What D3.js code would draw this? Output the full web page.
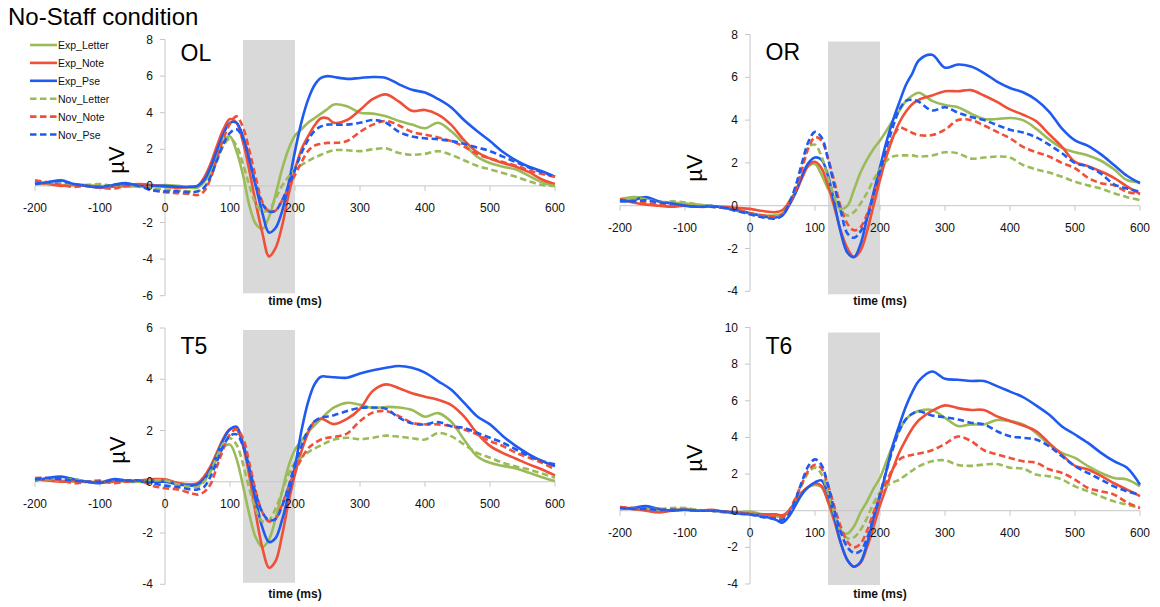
<!DOCTYPE html>
<html>
<head>
<meta charset="utf-8">
<script src="https://cdn.jsdelivr.net/npm/d3@7"></script>
<style>
  body { margin: 0; background: #fff; }
  svg { display: block; }
</style>
</head>
<body>
<svg id="chart" width="1160" height="607"></svg>
<script>
// Sampling times (ms) shared by every waveform
const times = [-200,-180,-160,-140,-120,-100,-80,-60,-40,-20,0,20,40,
  50,60,70,80,90,100,110,120,130,140,150,160,170,180,190,200,210,220,230,240,250,260,
  280,300,320,340,360,380,400,420,440,460,480,500,520,540,560,580,600];

const seriesNames = ["Exp_Letter","Exp_Note","Exp_Pse","Nov_Letter","Nov_Note","Nov_Pse"];
const channelNames = ["OL","OR","T5","T6"];
const xTickValues = [-200,-100,0,100,200,300,400,500,600];
const yTicksOL = [-6,-4,-2,0,2,4,6,8];
const yTicksOR = [-4,-2,0,2,4,6,8];
const yTicksT5 = [-4,-2,0,2,4,6];
const yTicksT6 = [-4,-2,0,2,4,6,8,10];
const windowMs = [120, 200];

// ---- OL (µV) ----
const olExpLetter = [0.1,0.1,0.05,0.05,0.05,0.0,0.0,-0.05,0.0,0.0,0.05,0.0,-0.1,
  -0.1,0.2,0.8,1.7,2.5,2.7,1.9,0.6,-1.1,-2.1,-2.35,-1.7,-0.5,0.9,2.0,2.75,3.1,3.45,3.7,3.95,4.2,4.45,
  4.35,4.0,3.95,3.8,3.55,3.35,3.15,3.45,3.0,2.3,1.6,1.25,1.05,0.9,0.55,0.2,0.0];
const olExpNote = [0.2,0.1,0.0,0.05,0.0,-0.05,-0.05,0.05,0.1,0.05,-0.05,-0.1,-0.05,
  0.0,0.45,1.2,2.2,3.1,3.65,3.45,2.4,0.8,-1.0,-2.6,-3.85,-3.4,-2.2,-0.5,0.9,2.0,2.7,3.3,3.7,3.7,3.45,
  3.6,4.15,4.75,5.0,4.6,4.1,4.15,3.9,3.35,2.5,1.85,1.5,1.25,1.05,0.75,0.35,0.1];
const olExpPse = [0.13,0.2,0.3,0.1,0.0,-0.1,0.05,0.15,0.0,0.0,0.0,-0.05,-0.05,
  0.0,0.3,1.0,1.95,2.85,3.45,3.45,2.7,1.4,-0.05,-1.5,-2.55,-2.3,-1.4,0.1,1.9,3.5,4.7,5.5,5.9,6.0,5.95,
  5.85,5.9,5.95,5.9,5.55,5.25,5.1,4.75,4.3,3.6,3.0,2.45,1.85,1.4,1.05,0.8,0.5];
const olNovLetter = [0.1,0.15,0.1,0.0,0.05,0.1,0.0,0.0,-0.05,-0.1,-0.2,-0.25,-0.3,
  -0.3,-0.1,0.5,1.4,2.2,2.6,2.2,1.2,0.0,-1.0,-1.4,-1.3,-0.7,0.0,0.5,0.9,1.15,1.35,1.55,1.7,1.85,1.95,
  1.95,1.9,2.0,2.05,1.8,1.7,1.75,1.9,1.7,1.4,1.1,0.9,0.7,0.5,0.25,0.05,0.0];
const olNovNote = [0.3,0.2,0.05,-0.05,0.0,-0.1,-0.15,0.0,0.05,-0.2,-0.35,-0.4,-0.45,
  -0.5,-0.3,0.4,1.5,2.6,3.4,3.8,3.2,1.9,0.4,-0.9,-1.4,-1.35,-0.8,-0.1,0.6,1.3,1.9,2.2,2.3,2.35,2.35,
  2.45,2.95,3.35,3.55,3.3,2.95,2.8,2.65,2.45,2.15,1.75,1.5,1.3,1.1,0.85,0.65,0.5];
const olNovPse = [0.1,0.2,0.25,0.1,0.0,-0.05,0.05,0.1,0.0,-0.25,-0.3,-0.3,-0.35,
  -0.3,-0.1,0.5,1.4,2.3,2.9,3.1,2.6,1.4,0.0,-1.0,-1.4,-1.35,-0.8,0.0,0.9,1.8,2.5,3.0,3.25,3.35,3.35,
  3.35,3.45,3.6,3.45,2.95,2.7,2.6,2.55,2.45,2.3,2.1,1.9,1.6,1.3,1.0,0.75,0.5];

// ---- OR (µV) ----
const orExpLetter = [0.3,0.4,0.35,0.2,0.15,0.1,0.05,0.0,-0.1,-0.25,-0.35,-0.45,-0.45,
  -0.35,0.2,0.65,1.3,1.85,1.95,1.45,0.8,0.25,-0.15,0.0,0.75,1.55,2.15,2.65,3.05,3.5,4.0,4.45,4.9,5.15,5.28,
  4.9,4.7,4.6,4.3,4.05,4.05,4.1,4.0,3.6,3.1,2.7,2.5,2.35,2.1,1.7,1.2,1.1];
const orExpNote = [0.3,0.15,0.05,0.0,-0.05,0.0,-0.05,-0.05,-0.05,-0.1,-0.15,-0.25,-0.3,
  -0.2,0.15,0.6,1.3,1.9,2.05,1.75,0.95,-0.1,-1.2,-2.0,-2.4,-2.1,-1.2,0.0,1.2,2.3,3.2,3.9,4.4,4.75,4.95,
  5.15,5.35,5.35,5.4,5.15,4.85,4.5,4.25,3.95,3.35,2.75,2.05,1.85,1.6,1.3,0.9,0.55];
const orExpPse = [0.2,0.25,0.4,0.2,0.1,0.0,-0.05,0.0,-0.1,-0.2,-0.35,-0.5,-0.55,
  -0.45,0.0,0.6,1.4,2.0,2.25,2.15,1.4,0.1,-1.3,-2.2,-2.4,-1.8,-0.6,0.6,1.8,3.0,4.0,4.85,5.65,6.2,6.8,
  7.05,6.45,6.6,6.5,6.2,5.8,5.5,5.3,4.95,4.4,3.6,3.05,2.8,2.4,1.9,1.4,1.05];
const orNovLetter = [0.3,0.35,0.3,0.15,0.2,0.15,0.05,-0.05,-0.1,-0.2,-0.4,-0.5,-0.55,
  -0.4,0.1,0.8,1.9,2.75,2.85,2.3,1.3,0.4,-0.25,-0.45,-0.3,0.1,0.6,1.2,1.7,2.1,2.3,2.35,2.35,2.35,2.3,
  2.35,2.5,2.45,2.2,2.25,2.3,2.25,1.9,1.7,1.55,1.35,1.12,0.95,0.8,0.58,0.4,0.26];
const orNovNote = [0.3,0.2,0.15,0.05,0.05,0.0,-0.05,-0.05,-0.1,-0.2,-0.35,-0.45,-0.5,
  -0.4,0.05,0.7,1.7,2.7,3.2,3.05,2.2,1.1,-0.1,-0.85,-1.15,-1.0,-0.4,0.5,1.4,2.4,3.2,3.65,3.55,3.4,3.3,
  3.3,3.55,4.0,4.0,3.75,3.45,3.15,2.75,2.5,2.3,2.0,1.75,1.3,1.05,0.95,0.65,0.55];
const orNovPse = [0.25,0.2,0.25,0.15,0.1,0.0,-0.05,-0.05,-0.1,-0.25,-0.4,-0.55,-0.6,
  -0.45,0.1,0.9,2.0,3.0,3.45,3.2,2.2,0.9,-0.3,-1.3,-1.5,-1.2,-0.6,0.5,1.6,2.7,3.7,4.5,4.9,4.95,4.85,
  4.45,4.6,4.35,4.15,4.0,3.77,3.55,3.42,3.2,2.85,2.45,2.0,1.82,1.5,1.0,0.8,0.65];

// ---- T5 (µV) ----
const t5ExpLetter = [0.1,0.1,0.05,0.0,0.0,0.0,0.05,0.0,0.0,0.05,0.05,-0.05,-0.15,
  -0.15,0.05,0.4,0.9,1.35,1.45,0.9,-0.15,-1.3,-2.2,-2.55,-2.25,-1.45,-0.4,0.6,1.25,1.6,1.95,2.2,2.45,2.7,2.9,
  3.08,3.0,2.88,2.92,2.9,2.8,2.54,2.68,2.35,1.65,1.0,0.74,0.62,0.52,0.35,0.18,0.03];
const t5ExpNote = [0.1,0.05,0.0,0.05,0.0,-0.05,0.0,0.05,0.05,0.1,0.1,-0.05,-0.1,
  -0.05,0.2,0.6,1.15,1.7,2.05,2.05,1.4,0.2,-1.3,-2.6,-3.35,-3.1,-2.1,-0.8,0.3,1.2,1.9,2.35,2.47,2.35,2.25,
  2.45,2.85,3.55,3.8,3.65,3.45,3.32,3.2,3.0,2.55,1.9,1.4,1.12,0.9,0.68,0.48,0.25];
const t5ExpPse = [0.05,0.15,0.2,0.1,0.0,-0.05,0.1,0.05,0.0,0.0,0.0,-0.1,-0.15,
  -0.1,0.1,0.5,1.05,1.65,2.05,2.15,1.5,0.45,-0.75,-1.8,-2.35,-2.2,-1.5,-0.5,0.6,2.0,3.1,3.8,4.1,4.1,4.08,
  4.06,4.22,4.35,4.45,4.52,4.45,4.26,3.93,3.6,3.09,2.56,2.24,1.78,1.39,1.07,0.81,0.61];
const t5NovLetter = [0.1,0.1,0.05,0.1,0.0,0.0,0.0,0.05,0.0,0.05,0.05,-0.1,-0.2,
  -0.2,0.0,0.4,1.0,1.5,1.7,1.45,0.7,-0.3,-1.1,-1.55,-1.5,-1.05,-0.4,0.3,0.75,0.95,1.15,1.3,1.42,1.55,1.65,
  1.72,1.66,1.72,1.8,1.76,1.7,1.65,1.9,1.78,1.46,1.13,0.94,0.74,0.6,0.48,0.32,0.16];
const t5NovNote = [0.15,0.15,0.05,-0.05,0.0,0.05,-0.05,0.0,0.05,-0.15,-0.25,-0.3,-0.45,
  -0.5,-0.4,-0.1,0.6,1.3,1.85,2.05,1.7,0.7,-0.4,-1.2,-1.55,-1.45,-0.9,-0.2,0.4,0.9,1.3,1.5,1.65,1.72,1.75,
  1.88,2.37,2.7,2.76,2.56,2.3,2.24,2.24,2.17,2.04,1.85,1.59,1.39,1.13,0.94,0.74,0.48];
const t5NovPse = [0.1,0.15,0.1,0.05,0.0,0.0,0.05,0.05,0.05,-0.05,-0.15,-0.2,-0.3,
  -0.3,-0.2,0.2,0.8,1.4,1.8,1.85,1.4,0.5,-0.5,-1.2,-1.5,-1.45,-0.95,-0.2,0.7,1.4,2.0,2.35,2.5,2.55,2.6,
  2.76,2.88,2.9,2.85,2.5,2.28,2.24,2.33,2.17,2.1,1.91,1.72,1.52,1.26,1.0,0.81,0.68];

// ---- T6 (µV) ----
const t6ExpLetter = [0.15,0.1,0.1,0.0,0.05,0.1,0.0,0.0,-0.05,-0.1,-0.05,-0.2,-0.3,
  -0.35,0.0,0.5,1.0,1.3,1.4,1.3,0.5,-0.5,-1.15,-1.25,-0.85,-0.1,0.5,1.2,1.8,2.7,3.6,4.4,5.0,5.3,5.45,
  5.5,5.07,4.62,4.71,4.71,4.95,4.89,4.71,4.25,3.61,3.16,2.88,2.43,2.06,1.79,1.7,1.33];
const t6ExpNote = [0.2,0.1,0.0,-0.1,0.0,0.05,0.0,0.05,-0.05,-0.1,-0.15,-0.2,-0.2,
  -0.25,0.0,0.5,1.0,1.3,1.5,1.35,0.5,-0.6,-1.8,-2.7,-3.05,-2.85,-2.0,-0.9,0.3,1.3,2.3,3.2,3.9,4.5,4.95,
  5.45,5.75,5.6,5.5,5.5,5.15,4.9,4.65,4.35,3.7,3.05,2.45,2.25,1.9,1.5,1.15,0.8];
const t6ExpPse = [0.1,0.15,0.25,0.1,0.0,0.05,0.0,0.0,-0.05,-0.15,-0.2,-0.3,-0.5,
  -0.65,-0.3,0.3,0.9,1.3,1.55,1.65,0.9,-0.4,-1.8,-2.7,-3.05,-2.8,-1.8,-0.4,0.8,2.2,3.6,4.7,5.7,6.5,7.1,
  7.6,7.2,7.15,7.08,7.08,6.8,6.5,6.2,5.75,5.25,4.6,4.16,3.7,3.16,2.7,2.34,1.42];
const t6NovLetter = [0.1,0.15,0.1,0.1,0.15,0.15,0.05,0.0,-0.1,-0.15,-0.15,-0.3,-0.4,
  -0.4,-0.1,0.6,1.4,2.1,2.35,2.0,1.0,-0.2,-1.1,-1.5,-1.45,-1.05,-0.4,0.4,1.0,1.35,1.55,1.7,1.95,2.2,2.43,
  2.7,2.75,2.5,2.45,2.52,2.55,2.35,2.3,1.97,1.88,1.7,1.33,1.06,0.78,0.51,0.33,0.15];
const t6NovNote = [0.2,0.15,0.1,0.05,0.05,0.05,0.0,0.0,-0.05,-0.1,-0.2,-0.3,-0.35,
  -0.35,0.0,0.7,1.5,2.2,2.5,2.3,1.4,0.2,-0.9,-1.7,-2.0,-1.8,-1.1,-0.1,0.8,1.6,2.3,2.8,2.97,3.05,3.12,
  3.3,3.65,4.05,3.8,3.3,3.07,2.88,2.7,2.62,2.26,2.06,1.7,1.24,1.06,0.88,0.45,0.15];
const t6NovPse = [0.15,0.1,0.1,0.05,0.05,0.05,0.0,0.0,-0.05,-0.15,-0.2,-0.35,-0.45,
  -0.5,-0.2,0.6,1.6,2.45,2.8,2.5,1.4,0.0,-1.2,-2.0,-2.3,-2.2,-1.5,-0.4,0.9,2.2,3.4,4.4,5.0,5.3,5.42,
  5.2,5.1,4.98,4.8,4.71,4.34,4.07,3.98,3.89,3.52,2.97,2.43,2.06,1.7,1.33,1.06,0.88];

const channelSeries = {
  OL: [olExpLetter, olExpNote, olExpPse, olNovLetter, olNovNote, olNovPse],
  OR: [orExpLetter, orExpNote, orExpPse, orNovLetter, orNovNote, orNovPse],
  T5: [t5ExpLetter, t5ExpNote, t5ExpPse, t5NovLetter, t5NovNote, t5NovPse],
  T6: [t6ExpLetter, t6ExpNote, t6ExpPse, t6NovLetter, t6NovNote, t6NovPse]
};
const channelYTicks = { OL: yTicksOL, OR: yTicksOR, T5: yTicksT5, T6: yTicksT6 };

// ---- styling and placement ----
const stimColor = { Letter: "#9bbb59", Note: "#f04f38", Pse: "#1f5bf0" };
const styleOf = name => {
  const [cond, stim] = name.split("_");
  return { color: stimColor[stim], dash: cond === "Nov" ? "6.5,3.5" : null };
};

const layout = {
  OL: { xr: [35, 555],   yr: [295.7, 39.5], band: [0.5, -2.4], mu: [116, 160], tag: [180.5, 60.5], axisTitleY: 305 },
  OR: { xr: [620, 1140], yr: [291.3, 34.5], band: [7, 3],      mu: [694, 168], tag: [765.5, 60],   axisTitleY: 305 },
  T5: { xr: [35, 555],   yr: [584.3, 328],  band: [2, -1.5],   mu: [117, 450], tag: [180.5, 353.5], axisTitleY: 598 },
  T6: { xr: [620, 1140], yr: [584, 327.5],  band: [5, 1],      mu: [694, 458], tag: [765.5, 354],  axisTitleY: 598 }
};

const FONT = "'Liberation Sans', Arial, Helvetica, sans-serif";
const svg = d3.select("#chart");

svg.append("text")
  .attr("x", 8).attr("y", 25)
  .attr("font-family", FONT).attr("font-size", 24)
  .attr("fill", "#000")
  .text("No-Staff condition");

channelNames.forEach(ch => {
  const L = layout[ch];
  const ticks = channelYTicks[ch];
  const x = d3.scaleLinear().domain([xTickValues[0], xTickValues[xTickValues.length - 1]]).range(L.xr);
  const y = d3.scaleLinear().domain([d3.min(ticks), d3.max(ticks)]).range(L.yr);
  const g = svg.append("g");

  // shaded analysis window
  g.append("rect")
    .attr("x", x(windowMs[0]))
    .attr("width", x(windowMs[1]) - x(windowMs[0]))
    .attr("y", y(d3.max(ticks)) + L.band[0])
    .attr("height", (y(d3.min(ticks)) + L.band[1]) - (y(d3.max(ticks)) + L.band[0]))
    .attr("fill", "#d9d9d9");

  // axis lines and tick marks
  const axisColor = "#c6c6c6";
  g.append("line")
    .attr("x1", x(0)).attr("x2", x(0))
    .attr("y1", y(d3.min(ticks))).attr("y2", y(d3.max(ticks)))
    .attr("stroke", axisColor).attr("stroke-width", 1);
  g.selectAll(".ytk").data(ticks).enter().append("line")
    .attr("x1", x(0) - 5).attr("x2", x(0))
    .attr("y1", d => y(d)).attr("y2", d => y(d))
    .attr("stroke", axisColor).attr("stroke-width", 1);
  g.append("line")
    .attr("x1", x(xTickValues[0])).attr("x2", x(xTickValues[xTickValues.length - 1]))
    .attr("y1", y(0)).attr("y2", y(0))
    .attr("stroke", axisColor).attr("stroke-width", 1);
  g.selectAll(".xtk").data(xTickValues).enter().append("line")
    .attr("x1", d => x(d)).attr("x2", d => x(d))
    .attr("y1", y(0)).attr("y2", y(0) + 5)
    .attr("stroke", axisColor).attr("stroke-width", 1);

  // waveforms
  const line = d3.line()
    .x((d, i) => x(times[i]))
    .y(d => y(d))
    .curve(d3.curveCatmullRom.alpha(0.5));
  channelSeries[ch].forEach((vals, k) => {
    const st = styleOf(seriesNames[k]);
    g.append("path")
      .datum(vals)
      .attr("d", line)
      .attr("fill", "none")
      .attr("stroke", st.color)
      .attr("stroke-width", 2.6)
      .attr("stroke-linejoin", "round")
      .attr("stroke-dasharray", st.dash);
  });

  // tick labels
  g.selectAll(".ylab").data(ticks).enter().append("text")
    .attr("x", x(0) - 12).attr("y", d => y(d))
    .attr("text-anchor", "end").attr("dominant-baseline", "central")
    .attr("font-family", FONT).attr("font-size", 12).attr("fill", "#111")
    .text(d => d);
  g.selectAll(".xlab").data(xTickValues).enter().append("text")
    .attr("x", d => x(d)).attr("y", y(0) + 26.5)
    .attr("text-anchor", "middle")
    .attr("font-family", FONT).attr("font-size", 12).attr("fill", "#111")
    .text(d => d);

  // channel tag, unit and axis title
  g.append("text")
    .attr("x", L.tag[0]).attr("y", L.tag[1])
    .attr("font-family", FONT).attr("font-size", 23).attr("fill", "#000")
    .text(ch);
  g.append("text")
    .attr("transform", `translate(${L.mu[0]},${L.mu[1]}) rotate(-90)`)
    .attr("text-anchor", "middle").attr("dominant-baseline", "central")
    .attr("font-family", FONT).attr("font-size", 22).attr("fill", "#000")
    .text("µV");
  g.append("text")
    .attr("x", x(200)).attr("y", L.axisTitleY)
    .attr("text-anchor", "middle")
    .attr("font-family", FONT).attr("font-size", 12).attr("font-weight", "bold").attr("fill", "#111")
    .text("time (ms)");
});

// legend
const legend = svg.append("g");
seriesNames.forEach((name, i) => {
  const st = styleOf(name);
  const yy = 45 + i * 17.9;
  legend.append("line")
    .attr("x1", 30).attr("x2", 57).attr("y1", yy).attr("y2", yy)
    .attr("stroke", st.color).attr("stroke-width", 2.6)
    .attr("stroke-dasharray", st.dash);
  legend.append("text")
    .attr("x", 58).attr("y", yy)
    .attr("dominant-baseline", "central")
    .attr("font-family", FONT).attr("font-size", 10.5).attr("fill", "#111")
    .text(name);
});
</script>
</body>
</html>
